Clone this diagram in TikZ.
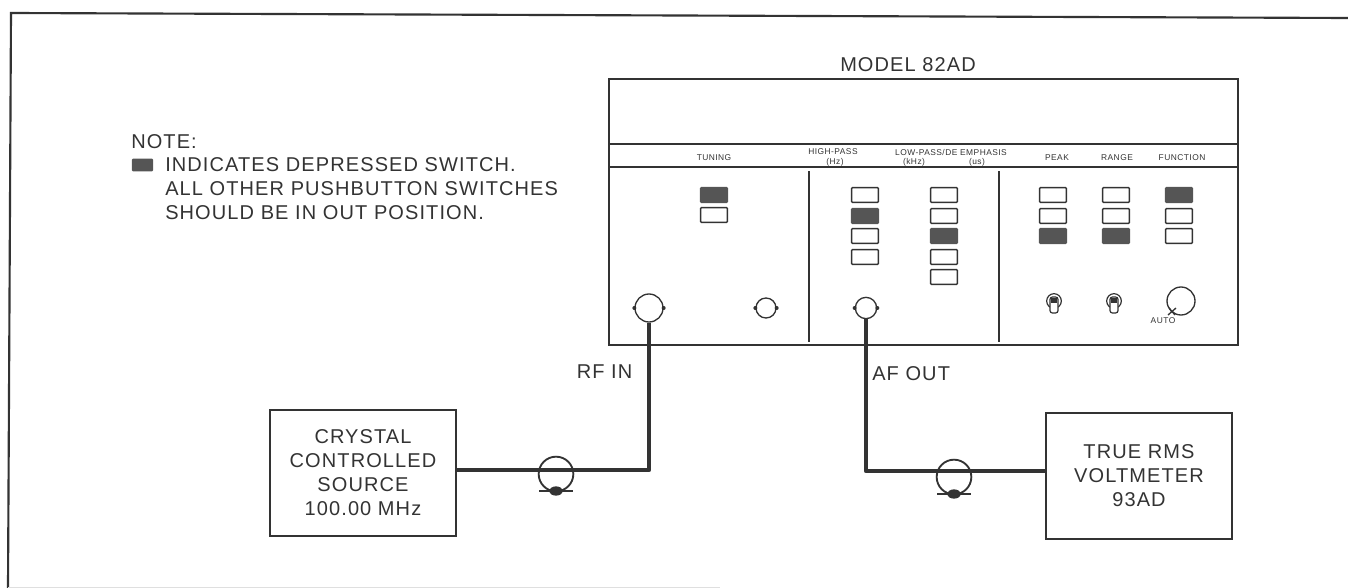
\documentclass[tikz,border=0pt]{standalone}
\usepackage{fontspec}
\usepackage{tikz}
\usepackage{xcolor}
\setmainfont[LetterSpace=5.5]{Liberation Sans}
\definecolor{inkdark}{HTML}{333333}
\definecolor{inkfill}{HTML}{555555}
\tikzset{
    push-button/.style = {draw=inkdark, fill=white, line width=1.1pt, rectangle, rounded corners=0.6pt, minimum width=20pt, minimum height=11pt, inner sep=0pt},
    push-button-on/.style = {push-button, fill=inkfill, draw=inkfill},
    instrument-box/.style = {draw=inkdark, line width=1.8pt, rectangle, minimum width=139.5pt, minimum height=94.5pt, align=center, text=inkdark, font=\fontsize{15}{18}\selectfont},
    big-label/.style = {text=inkdark, inner sep=0pt, font=\fontsize{15}{17}\selectfont},
    note-label/.style = {big-label, anchor=west},
    band-label/.style = {text=inkdark, inner sep=0pt, font=\fontsize{6.3}{7}\selectfont},
    jack/.style = {draw=inkdark, fill=white, line width=1pt, circle, inner sep=0pt},
    cable/.style = {draw=inkdark, line width=3.2pt, line join=round},
    thin-rule/.style = {draw=inkdark, line width=1pt},
}

\begin{document}
\begin{tikzpicture}[x=0.75pt, y=-0.75pt]
\useasboundingbox (0,0) rectangle (1348,588);
% sheet border
\draw[inkdark, line width=1.6pt] (1348,18) -- (11,13) -- (8,588);
\draw[gray!25, line width=0.6pt] (8,587) -- (720,587);

% note
\node[note-label] (note-title) at (131,142) {NOTE:};
\node[push-button-on, minimum width=15pt, minimum height=8.5pt] (note-swatch) at (142.5,165) {};
\node[note-label] (note-a) at (165,165) {INDICATES DEPRESSED SWITCH.};
\node[note-label] (note-b) at (165,189) {ALL OTHER PUSHBUTTON SWITCHES};
\node[note-label] (note-c) at (165,213) {SHOULD BE IN OUT POSITION.};

% front panel
\node[draw=inkdark, line width=1.4pt, rectangle, minimum width=471.75pt, minimum height=199.5pt, inner sep=0pt] (model-panel) at (923.5,212) {};
\node[big-label] (model-title) at (908,65) {MODEL 82AD};
\draw[thin-rule] (model-panel.west |- 0,144) -- (model-panel.east |- 0,144);
\draw[thin-rule] (model-panel.west |- 0,167) -- (model-panel.east |- 0,167);
\draw[thin-rule] (809,171) -- (809,342);
\draw[thin-rule] (999,171) -- (999,342);

% panel headings
\foreach \name/\x/\y/\txt in {tuning/714/158/TUNING, high/833/152/HIGH-PASS, hz/835/162/(Hz),
    low/951/152/{LOW-PASS/DE EMPHASIS}, khz/914/162/(kHz), us/977/162/(us),
    peak/1057/158/PEAK, range/1117/158/RANGE, function/1182/158/FUNCTION, auto/1163/321/AUTO}
    \node[band-label] (head-\name) at (\x,\y) {\txt};

% pushbuttons
\foreach \name/\x/\y/\kind in {
    t1/714/195/push-button-on, t2/714/215/push-button,
    h1/865/195/push-button, h2/865/216/push-button-on, h3/865/236/push-button, h4/865/257/push-button,
    l1/944/195/push-button, l2/944/216/push-button, l3/944/236/push-button-on, l4/944/257/push-button, l5/944/277/push-button,
    p1/1053/195/push-button, p2/1053/216/push-button, p3/1053/236/push-button-on,
    r1/1116/195/push-button, r2/1116/216/push-button, r3/1116/236/push-button-on,
    f1/1179/195/push-button-on, f2/1179/216/push-button, f3/1179/236/push-button}
    \node[\kind] (sw-\name) at (\x,\y) {};

% jacks
\foreach \name/\x/\size in {rf-in/649/21pt, tune-out/766/15pt, af-out/866/16pt}
{
    \node[jack, minimum size=\size] (\name) at (\x,308) {};
    \fill[inkdark] (\name.west) circle (1.5pt) (\name.east) circle (1.5pt);
}

% toggles and knob
\foreach \name/\x in {peak-toggle/1054, range-toggle/1114}
{
    \node[draw=inkdark, line width=0.9pt, circle, minimum size=11pt, inner sep=0pt] (\name) at (\x,301) {};
    \draw[inkdark, line width=0.9pt, fill=white, rounded corners=1.8pt] (\x-4,297) rectangle (\x+4,313);
    \fill[inkdark] (\x-3,298) rectangle (\x+3,303);
}
\node[draw=inkdark, line width=1pt, circle, minimum size=21pt, inner sep=0pt] (func-knob) at (1181,301) {};
\draw[inkdark, line width=1pt] (func-knob.center) ++(-12,7) -- ++(6,7) ++(-7,0) -- ++(8,-7);

% test instruments
\node[instrument-box] (crystal-source) at (363,473) {CRYSTAL\\CONTROLLED\\SOURCE\\100.00 MHz};
\node[instrument-box] (rms-meter) at (1139,476) {TRUE RMS\\VOLTMETER\\93AD};
\coordinate (rf-bend) at (648,470);
\coordinate (af-bend) at (864,471);
\draw[cable] (rf-in.south) -- (rf-in.south |- rf-bend) -- (crystal-source.east |- rf-bend);
\draw[cable] (af-out.south) -- (af-out.south |- af-bend) -- (rms-meter.west |- af-bend);
\node[big-label] (rf-label) at (604.5,372) {RF IN};
\node[big-label, anchor=west] (af-label) at (872,374) {AF OUT};

% cable clamps
\foreach \name/\x/\y in {rf-clamp/556/474, af-clamp/954/477}
{
    \node[draw=inkdark, line width=1.4pt, circle, minimum size=26pt, inner sep=0pt] (\name) at (\x,\y) {};
    \draw[inkdark, line width=1.4pt] (\x-17,\y+17) -- (\x+17,\y+17);
    \fill[inkdark] (\x,\y+17) ellipse (5pt and 3.5pt);
}
\end{tikzpicture}
\end{document}
